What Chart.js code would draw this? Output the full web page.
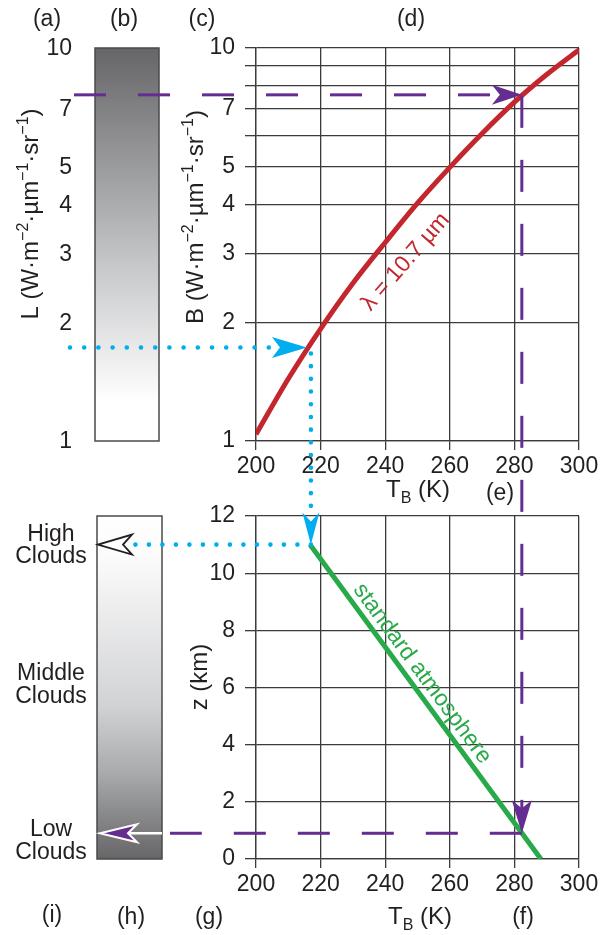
<!DOCTYPE html>
<html>
<head>
<meta charset="utf-8">
<script src="https://cdn.jsdelivr.net/npm/chart.js@4.4.0/dist/chart.umd.min.js"></script>
<style>
  html, body { margin: 0; padding: 0; background: #fff; }
  #wrap { position: relative; width: 604px; height: 935px; }
  #wrap canvas { position: absolute; left: 0; top: 0; }
</style>
</head>
<body>
<div id="wrap">
  <canvas id="radiance" width="604" height="935"></canvas>
  <canvas id="height" width="604" height="935"></canvas>
</div>
<script>
// Planck radiance at 10.7 um, read every 10 K
const tempK = [200, 210, 220, 230, 240, 250, 260, 270, 280, 290, 300];
const radiance = [1.04, 1.44, 1.93, 2.52, 3.2, 4.03, 4.97, 6.06, 7.28, 8.56, 9.89];

// standard atmosphere, surface to tropopause
const atmosT = [216.7, 288.2];
const atmosZ = [11, 0];

// axis ticks
const bTicks = [1, 2, 3, 4, 5, 6, 7, 8, 9, 10];
const bLabels = [1, 2, 3, 4, 5, 7, 10];
const tTicks = [200, 220, 240, 260, 280, 300];
const zTicks = [0, 2, 4, 6, 8, 10, 12];

// worked examples: [radiance, brightness temperature, height]
const warmPixel = [7.6, 282.3, 0.9];
const coldPixel = [1.73, 217, 11];

const FONT = '"Liberation Sans", Arial, Helvetica, sans-serif';
const INK = '#231f20';
const GRID = '#3b3b3b';
const RED = '#c4262e';
const GREEN = '#29aa4a';
const CYAN = '#00aeef';
const PURPLE = '#662d91';

Chart.defaults.font.family = FONT;

function font(px) { return px + 'px ' + FONT; }

// text with raised (1) or lowered (-1) small pieces, centred on x
function richText(ctx, x, y, parts, size, angle) {
  const small = Math.round(size * 0.66);
  ctx.save();
  ctx.translate(x, y);
  ctx.rotate(angle || 0);
  ctx.textAlign = 'left';
  ctx.textBaseline = 'alphabetic';
  let w = 0;
  parts.forEach(p => { ctx.font = font(p[1] ? small : size); w += ctx.measureText(p[0]).width; });
  let cx = -w / 2;
  parts.forEach(p => {
    ctx.font = font(p[1] ? small : size);
    const dy = p[1] === 1 ? -size * 0.4 : p[1] === -1 ? size * 0.25 : 0;
    ctx.fillText(p[0], cx, dy);
    cx += ctx.measureText(p[0]).width;
  });
  ctx.restore();
}

function label(ctx, text, x, y, size, align) {
  ctx.font = font(size || 23);
  ctx.textAlign = align || 'center';
  ctx.textBaseline = 'alphabetic';
  ctx.fillStyle = INK;
  ctx.fillText(text, x, y);
}

// barbed arrow head, tip at (x, y) pointing along ang
function arrowHead(ctx, x, y, ang, len, half, notch, fill, stroke, lw) {
  const c = Math.cos(ang), s = Math.sin(ang);
  const pts = [[0, 0], [-len, -half], [-len + notch, 0], [-len, half]];
  ctx.beginPath();
  pts.forEach(([px, py], i) => {
    const X = x + px * c - py * s, Y = y + px * s + py * c;
    if (i) ctx.lineTo(X, Y); else ctx.moveTo(X, Y);
  });
  ctx.closePath();
  if (fill) { ctx.fillStyle = fill; ctx.fill(); }
  if (stroke) { ctx.strokeStyle = stroke; ctx.lineWidth = lw; ctx.lineJoin = 'miter'; ctx.stroke(); }
}

function dotted(ctx, x1, y1, x2, y2, gap) {
  ctx.save();
  ctx.strokeStyle = CYAN;
  ctx.lineWidth = 4.6;
  ctx.lineCap = 'round';
  ctx.setLineDash([0, gap]);
  ctx.beginPath(); ctx.moveTo(x1, y1); ctx.lineTo(x2, y2); ctx.stroke();
  ctx.restore();
}

function dashed(ctx, x1, y1, x2, y2) {
  ctx.save();
  ctx.strokeStyle = PURPLE;
  ctx.lineWidth = 3;
  ctx.setLineDash([32, 32]);
  ctx.beginPath(); ctx.moveTo(x1, y1); ctx.lineTo(x2, y2); ctx.stroke();
  ctx.restore();
}

const superUnits = [['(W·m', 0], ['−2', 1], ['·µm', 0], ['−1', 1], ['·sr', 0], ['−1', 1], [')', 0]];

const gridOpts = { color: GRID, lineWidth: 1.3, tickColor: GRID, tickWidth: 1.3 };
const tickFont = { size: 23 };

function tempAxis() {
  return {
    type: 'linear', min: 200, max: 300,
    afterBuildTicks: s => { s.ticks = tTicks.map(v => ({ value: v })); },
    afterFit: s => { s.height = 40; },
    grid: Object.assign({ tickLength: 9 }, gridOpts),
    border: { color: GRID, width: 1.3 },
    ticks: { color: INK, font: tickFont, padding: 3, maxRotation: 0, autoSkip: false }
  };
}

// (a)-(e): radiance bar, labels and the traced arrows of the upper panel
const upperDecor = {
  id: 'upperDecor',
  afterDraw(chart) {
    const { ctx } = chart;
    const x = chart.scales.x, y = chart.scales.y;
    const yTop = y.getPixelForValue(10), yBot = y.getPixelForValue(1);
    ctx.save();

    const g = ctx.createLinearGradient(0, yTop, 0, yBot);
    g.addColorStop(0, '#666668');
    g.addColorStop(0.55, '#c6c7c9');
    g.addColorStop(0.9, '#ffffff');
    g.addColorStop(1, '#ffffff');
    ctx.fillStyle = g;
    ctx.fillRect(95, yTop, 64, yBot - yTop);
    ctx.strokeStyle = '#4a4a4a';
    ctx.lineWidth = 1.5;
    ctx.strokeRect(95, yTop, 64, yBot - yTop);

    ctx.fillStyle = INK;
    ctx.font = font(23);
    ctx.textAlign = 'right';
    ctx.textBaseline = 'middle';
    bLabels.forEach(v => ctx.fillText(String(v), 72, y.getPixelForValue(v) + 1));

    ctx.fillStyle = INK;
    richText(ctx, 38, 214, [['L ', 0]].concat(superUnits), 24, -Math.PI / 2);
    richText(ctx, 203, 217, [['B ', 0]].concat(superUnits), 24, -Math.PI / 2);
    richText(ctx, 418, 497, [['T', 0], ['B', -1], [' (K)', 0]], 24, 0);

    label(ctx, '(a)', 47, 26);
    label(ctx, '(b)', 124, 26);
    label(ctx, '(c)', 202, 26);
    label(ctx, '(d)', 411, 26);
    label(ctx, '(e)', 500, 500);

    // wavelength label along the curve
    const ax = x.getPixelForValue(241), ay = y.getPixelForValue(3.12);
    const ang = -49 * Math.PI / 180;
    ctx.save();
    ctx.translate(ax - Math.sin(ang) * 23, ay + Math.cos(ang) * 23);
    ctx.rotate(ang);
    ctx.fillStyle = RED;
    ctx.font = font(23);
    ctx.textAlign = 'center';
    ctx.textBaseline = 'middle';
    ctx.fillText('λ = 10.7 µm', 0, 0);
    ctx.restore();

    // warm pixel: radiance across to the curve
    const wy = y.getPixelForValue(warmPixel[0]);
    const wx = x.getPixelForValue(warmPixel[1]);
    dashed(ctx, 74, wy, wx - 22, wy);
    arrowHead(ctx, wx, wy, 0, 30, 10, 8, PURPLE);

    // cold pixel: radiance across to the curve
    const cy = y.getPixelForValue(coldPixel[0]);
    const cx = x.getPixelForValue(coldPixel[1]);
    dotted(ctx, 70, cy, cx - 31, cy, 14.2);
    arrowHead(ctx, cx - 4, cy, 0, 35, 10.5, 8, CYAN);

    ctx.restore();
  }
};

const topChart = new Chart(document.getElementById('radiance'), {
  type: 'line',
  data: {
    datasets: [{
      data: tempK.map((t, i) => ({ x: t, y: radiance[i] })),
      borderColor: RED,
      borderWidth: 5,
      pointRadius: 0,
      fill: false,
      cubicInterpolationMode: 'monotone'
    }]
  },
  options: {
    responsive: false,
    animation: false,
    events: [],
    layout: { padding: { left: 181, right: 25, top: 48, bottom: 454 } },
    plugins: { legend: { display: false }, tooltip: { enabled: false } },
    scales: {
      x: tempAxis(),
      y: {
        type: 'logarithmic', min: 1, max: 10,
        afterBuildTicks: s => { s.ticks = bTicks.map(v => ({ value: v })); },
        afterFit: s => { s.width = 75; },
        grid: Object.assign({ tickLength: 11 }, gridOpts),
        border: { color: GRID, width: 1.3 },
        ticks: {
          color: INK, font: tickFont, padding: 10, autoSkip: false,
          callback: v => bLabels.includes(v) ? String(v) : ''
        }
      }
    }
  },
  plugins: [upperDecor]
});

// (f)-(i): cloud bar, height axis and the arrows that link both panels
const lowerDecor = {
  id: 'lowerDecor',
  afterDraw(chart) {
    const { ctx } = chart;
    const x = chart.scales.x, z = chart.scales.y;
    const yB = topChart.scales.y;
    const zTop = z.getPixelForValue(12), zBot = z.getPixelForValue(0);
    ctx.save();

    const g = ctx.createLinearGradient(0, zTop, 0, zBot);
    g.addColorStop(0, '#ffffff');
    g.addColorStop(0.12, '#fbfbfb');
    g.addColorStop(0.55, '#d2d3d5');
    g.addColorStop(0.75, '#a9aaac');
    g.addColorStop(1, '#666668');
    ctx.fillStyle = g;
    ctx.fillRect(97, zTop, 65, zBot - zTop);
    ctx.strokeStyle = '#4a4a4a';
    ctx.lineWidth = 1.5;
    ctx.strokeRect(97, zTop, 65, zBot - zTop);

    label(ctx, 'High', 51, 541);
    label(ctx, 'Clouds', 51, 563);
    label(ctx, 'Middle', 51, 680);
    label(ctx, 'Clouds', 51, 703);
    label(ctx, 'Low', 51, 836);
    label(ctx, 'Clouds', 51, 859);

    ctx.fillStyle = INK;
    richText(ctx, 207, 677, [['z (km)', 0]], 24, -Math.PI / 2);
    richText(ctx, 420, 924, [['T', 0], ['B', -1], [' (K)', 0]], 24, 0);

    label(ctx, '(f)', 523, 924);
    label(ctx, '(g)', 209, 924);
    label(ctx, '(h)', 131, 924);
    label(ctx, '(i)', 52, 922);

    // lapse-rate label along the atmosphere line
    const p0x = x.getPixelForValue(atmosT[0]), p0y = z.getPixelForValue(atmosZ[0]);
    const p1x = x.getPixelForValue(atmosT[1]), p1y = z.getPixelForValue(atmosZ[1]);
    const ang = Math.atan2(p1y - p0y, p1x - p0x);
    const t = 0.437;
    ctx.save();
    ctx.translate(p0x + (p1x - p0x) * t + Math.sin(ang) * 14, p0y + (p1y - p0y) * t - Math.cos(ang) * 14);
    ctx.rotate(ang);
    ctx.fillStyle = GREEN;
    ctx.font = font(23);
    ctx.textAlign = 'center';
    ctx.textBaseline = 'middle';
    ctx.fillText('standard atmosphere', 0, 0);
    ctx.restore();

    // warm pixel: down to the atmosphere line, then across to the cloud bar
    const wx = x.getPixelForValue(warmPixel[1]);
    const wTop = yB.getPixelForValue(warmPixel[0]);
    const wz = z.getPixelForValue(warmPixel[2]);
    dashed(ctx, wx, wTop + 1, wx, wz - 25);
    arrowHead(ctx, wx, wz, Math.PI / 2, 33, 10, 8, PURPLE);
    dashed(ctx, wx, wz, 170, wz);
    ctx.strokeStyle = '#ffffff';
    ctx.lineWidth = 2.5;
    ctx.beginPath(); ctx.moveTo(162, wz); ctx.lineTo(126, wz); ctx.stroke();
    arrowHead(ctx, 100, wz, Math.PI, 37, 9, 9, PURPLE, '#ffffff', 2);

    // cold pixel: down to the tropopause, then across to the cloud bar
    const cx = x.getPixelForValue(coldPixel[1]);
    const cTop = yB.getPixelForValue(coldPixel[0]);
    const cz = z.getPixelForValue(coldPixel[2]);
    dotted(ctx, cx, cTop + 6, cx, cz - 30, 12.7);
    arrowHead(ctx, cx, cz, Math.PI / 2, 32, 8.5, 9, CYAN);
    dotted(ctx, cx, cz, 133, cz, 13.5);
    arrowHead(ctx, 98, cz, Math.PI, 34, 10, 9, '#ffffff', INK, 1.8);

    ctx.restore();
  }
};

new Chart(document.getElementById('height'), {
  type: 'line',
  data: {
    datasets: [{
      data: atmosT.map((t, i) => ({ x: t, y: atmosZ[i] })),
      borderColor: GREEN,
      borderWidth: 5,
      pointRadius: 0,
      fill: false
    }]
  },
  options: {
    responsive: false,
    animation: false,
    events: [],
    layout: { padding: { left: 181, right: 25, top: 516, bottom: 36 } },
    plugins: { legend: { display: false }, tooltip: { enabled: false } },
    scales: {
      x: tempAxis(),
      y: {
        type: 'linear', min: 0, max: 12,
        afterBuildTicks: s => { s.ticks = zTicks.map(v => ({ value: v })); },
        afterFit: s => { s.width = 75; },
        grid: Object.assign({ tickLength: 11 }, gridOpts),
        border: { color: GRID, width: 1.3 },
        ticks: { color: INK, font: tickFont, padding: 10, autoSkip: false }
      }
    }
  },
  plugins: [lowerDecor]
});
</script>
</body>
</html>
